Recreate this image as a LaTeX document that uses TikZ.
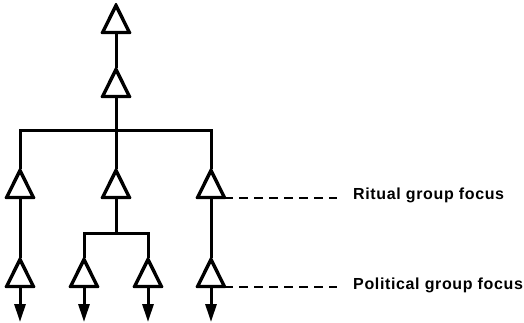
\documentclass[tikz,border=0pt]{standalone}
\usepackage{fontspec}
\setmainfont{Liberation Sans}
\usetikzlibrary{shapes.geometric,arrows.meta,calc}
\tikzset{
  tri/.style={draw, fill=white, line width=2.2pt, shape=isosceles triangle,
    shape border rotate=90, isosceles triangle stretches,
    minimum width=25pt, minimum height=25pt, inner sep=0pt, anchor=apex, line join=round},
  link/.style={line width=3pt},
  down/.style={line width=3pt, -{Triangle[length=18pt,width=11pt]}},
  dashlink/.style={line width=2pt, dash pattern=on 9pt off 6pt},
  lab/.style={font={\fontsize{16pt}{19pt}\selectfont\bfseries\addfontfeatures{LetterSpace=4}}, anchor=base west, inner sep=0pt}
}
\begin{document}
\begin{tikzpicture}[x=1pt,y=-1pt]
\useasboundingbox (0,0) rectangle (524,323);
% triangles
\node[tri] (t0) at (116,4) {};
\node[tri] (t1) at (116,68) {};
\node[tri] (a2) at (20,169) {};
\node[tri] (b2) at (116,169) {};
\node[tri] (c2) at (211,169) {};
\node[tri] (a3) at (20,258) {};
\node[tri] (b3) at (84,258) {};
\node[tri] (d3) at (148,258) {};
\node[tri] (c3) at (211,258) {};
% junction coordinates
\coordinate (j1) at (116,131);
\coordinate (j2) at (116,233);
\coordinate (ea3) at (20,322);
\coordinate (eb3) at (84,322);
\coordinate (ed3) at (148,322);
\coordinate (ec3) at (211,322);
% connectors
\draw[link] (t0.lower side) -- (t1.apex);
\draw[link] (t1.lower side) -- (j1);
\draw[link, line join=miter] (a2.apex) |- (j1) -| (c2.apex);
\draw[link] (j1) -- (b2.apex);
\draw[link] (a2.lower side) -- (a3.apex);
\draw[link] (c2.lower side) -- (c3.apex);
\draw[link] (b2.lower side) -- (j2);
\draw[link, line join=miter] (b3.apex) |- (j2) -| (d3.apex);
\draw[down] (a3.lower side) -- (ea3);
\draw[down] (b3.lower side) -- (eb3);
\draw[down] (d3.lower side) -- (ed3);
\draw[down] (c3.lower side) -- (ec3);
% redraw triangles on top
\foreach \n in {t0,t1,a2,b2,c2,a3,b3,d3,c3}{\draw[line width=2.2pt, line join=round] (\n.apex) -- (\n.left corner) -- (\n.right corner) -- cycle;}
% dashed leaders
\draw[dashlink] ($(c2.lower side)+(13,0)$) coordinate (s1) -- (s1 -| 337,0) coordinate (r1);
\draw[dashlink] ($(c3.lower side)+(13,0)$) coordinate (s2) -- (s2 -| 337,0) coordinate (r2);
\node[lab] (l1) at (353,199) {Ritual group focus};
\node[lab] (l2) at (353,289) {Political group focus};
\end{tikzpicture}
\end{document}
